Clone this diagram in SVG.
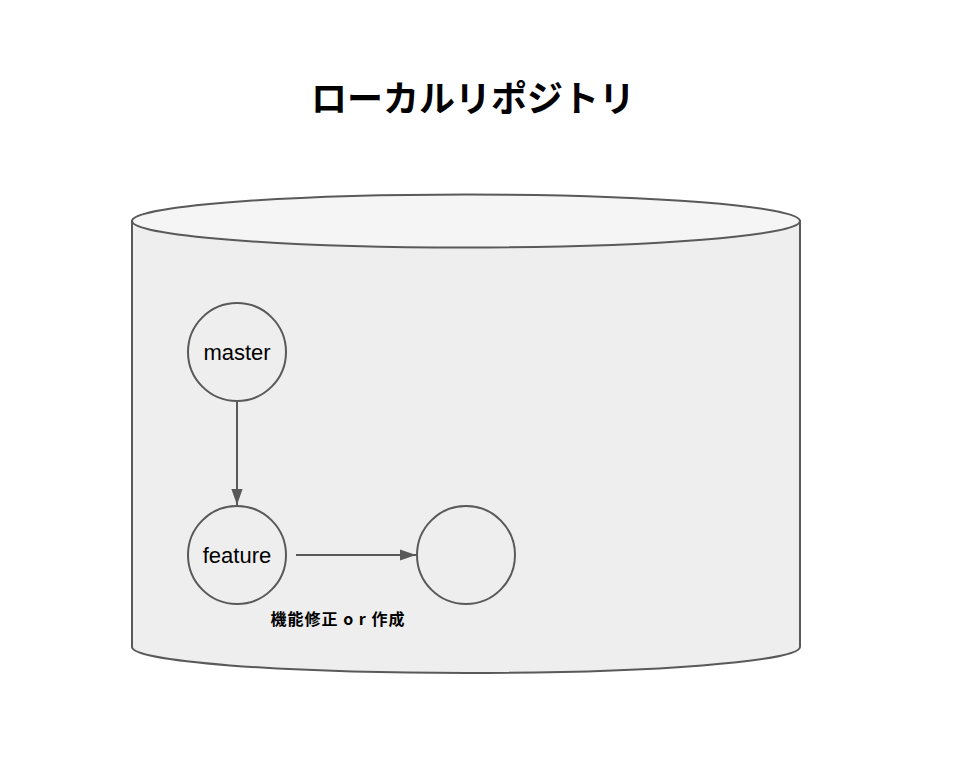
<svg xmlns="http://www.w3.org/2000/svg" width="978" height="774" viewBox="0 0 978 774">
<defs>
<style>
.node{fill:#eeeeee;stroke:#595959;stroke-width:2}
.lbl{font-family:"Liberation Sans",Arial,sans-serif;font-size:22px;fill:#000;text-anchor:middle}
.edge{stroke:#595959;stroke-width:2;fill:none}
.jp{font-family:"Noto Sans CJK JP","Noto Sans",sans-serif;font-weight:bold;fill:#000;text-anchor:middle}
</style>
<marker id="ah2" viewBox="0 0 10 10" refX="10" refY="5" markerWidth="16" markerHeight="16" markerUnits="userSpaceOnUse" orient="auto"><path d="M0,1.5 L10,5 L0,8.5 z" fill="#595959"/></marker>
</defs>
<rect width="978" height="774" fill="#ffffff"/>
<text class="jp" x="473" y="112" font-size="36">ローカルリポジトリ</text>
<g id="repository">
<path d="M132,221 L132,647 A334,26 0 0 0 800,647 L800,221 Z" fill="#eeeeee" stroke="#595959" stroke-width="2"/>
<ellipse cx="466" cy="221" rx="334" ry="26.5" fill="#f5f5f5" stroke="#595959" stroke-width="2"/>
</g>
<g id="master">
<circle class="node" cx="237" cy="352" r="49"/>
<text class="lbl" x="237" y="360">master</text>
</g>
<g id="feature">
<circle class="node" cx="237" cy="555" r="49"/>
<text class="lbl" x="237" y="563">feature</text>
</g>
<g id="new-commit">
<circle class="node" cx="466" cy="555" r="49"/>
</g>
<g id="connectors">
<line class="edge" x1="237" y1="401" x2="237" y2="505" marker-end="url(#ah2)"/>
<line class="edge" x1="296" y1="555" x2="416" y2="555" marker-end="url(#ah2)"/>
<text class="jp" x="338" y="625" font-size="16" letter-spacing="1">機能修正 o r 作成</text>
</g>
</svg>
